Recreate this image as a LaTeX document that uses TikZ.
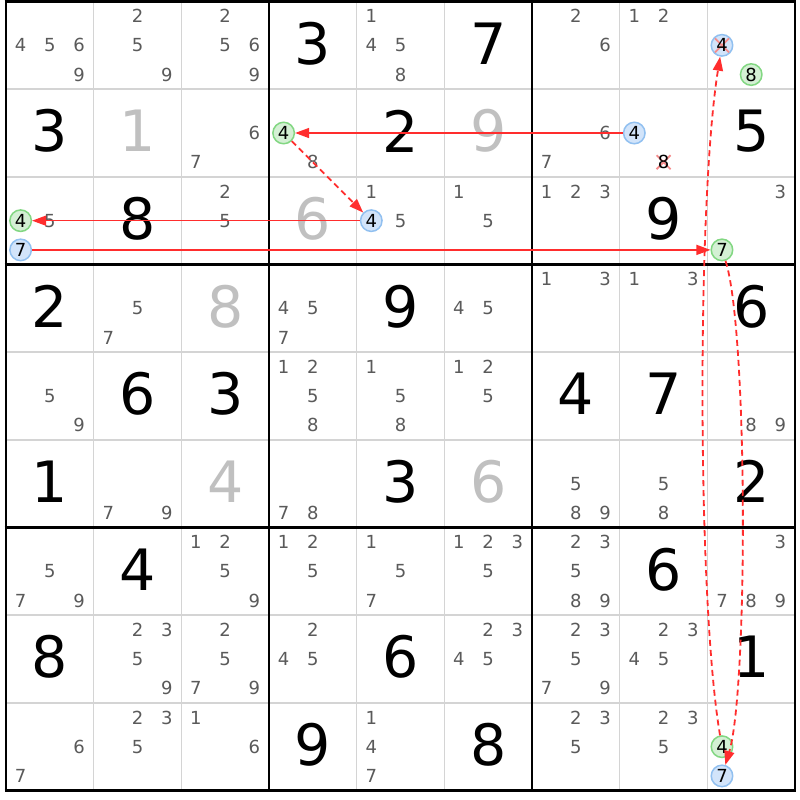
\documentclass[tikz,border=0pt]{standalone}
\usepackage{fontspec}
\setmainfont{DejaVu Sans}
\usetikzlibrary{arrows.meta}
\definecolor{candc}{RGB}{90,90,90}
\definecolor{solvedc}{RGB}{192,192,192}
\definecolor{thinc}{RGB}{212,212,212}
\definecolor{linkc}{RGB}{255,45,45}
\definecolor{gfill}{RGB}{212,240,212}
\definecolor{gdraw}{RGB}{130,215,130}
\definecolor{bfill}{RGB}{210,228,250}
\definecolor{bdraw}{RGB}{145,192,240}
\definecolor{xc}{RGB}{245,140,140}
\newcommand{\CX}[2]{6+(#1-1)*87.67+(mod(#2-1,3)+0.5)*29.223}
\newcommand{\CY}[2]{1.5+(#1-1)*87.67+(floor((#2-1)/3)+0.5)*29.223}
\newcommand{\cands}[3]{\foreach \d in {#3}{\node[candt] at ({\CX{#2}{\d}},{\CY{#1}{\d}}) {\d};}}
\newcommand{\bigd}[4]{\node[#4] at ({6+(#2-0.5)*87.67},{1.5+(#1-0.5)*87.67-2}) {#3};}
\tikzset{
  candt/.style={text=candc, inner sep=0pt, font=\fontsize{18}{19}\selectfont},
  givent/.style={text=black, inner sep=0pt, font=\fontsize{57}{60}\selectfont},
  solvedt/.style={text=solvedc, inner sep=0pt, font=\fontsize{57}{60}\selectfont},
  gcirc/.style={circle, draw=gdraw, fill=gfill, line width=1.5pt, minimum size=21.5pt, inner sep=0pt, text=black, font=\fontsize{18}{19}\selectfont},
  bcirc/.style={circle, draw=bdraw, fill=bfill, line width=1.5pt, minimum size=21.5pt, inner sep=0pt, text=black, font=\fontsize{18}{19}\selectfont},
  plaintxt/.style={inner sep=0pt, text=black, font=\fontsize{18}{19}\selectfont},
  xmark/.style={draw=xc, line width=1.8pt},
  linkline/.style={draw=linkc, line width=1.4pt, -{Triangle[length=14pt,width=10pt]}},
  weaklink/.style={draw=linkc, line width=1.8pt, dash pattern=on 6pt off 4pt, -{Triangle[length=14pt,width=10pt]}},
}
\begin{document}
\begin{tikzpicture}[x=1pt,y=-1pt]
\useasboundingbox (0,0) rectangle (800,800);
\fill[white] (0,0) rectangle (800,800);
% thin grid
\foreach \i in {1,2,4,5,7,8}{
  \draw[thinc, line width=1.6pt] ({6+\i*87.67},1.5) -- ({6+\i*87.67},789.5);
  \draw[thinc, line width=1.6pt] (6,{1.5+\i*87.67}) -- (795,{1.5+\i*87.67});
}
% thick grid
\foreach \i in {0,3,6,9}{
  \draw[black, line width=2.8pt] ({6+\i*87.67},0.1) -- ({6+\i*87.67},790.9);
  \draw[black, line width=2.8pt] (4.6,{1.5+\i*87.67}) -- (796.4,{1.5+\i*87.67});
}
% givens
\bigd{1}{4}{3}{givent} \bigd{1}{6}{7}{givent}
\bigd{2}{1}{3}{givent} \bigd{2}{5}{2}{givent} \bigd{2}{9}{5}{givent}
\bigd{3}{2}{8}{givent} \bigd{3}{8}{9}{givent}
\bigd{4}{1}{2}{givent} \bigd{4}{5}{9}{givent} \bigd{4}{9}{6}{givent}
\bigd{5}{2}{6}{givent} \bigd{5}{3}{3}{givent} \bigd{5}{7}{4}{givent} \bigd{5}{8}{7}{givent}
\bigd{6}{1}{1}{givent} \bigd{6}{5}{3}{givent} \bigd{6}{9}{2}{givent}
\bigd{7}{2}{4}{givent} \bigd{7}{8}{6}{givent}
\bigd{8}{1}{8}{givent} \bigd{8}{5}{6}{givent} \bigd{8}{9}{1}{givent}
\bigd{9}{4}{9}{givent} \bigd{9}{6}{8}{givent}
% solved
\bigd{2}{2}{1}{solvedt} \bigd{2}{6}{9}{solvedt} \bigd{3}{4}{6}{solvedt}
\bigd{4}{3}{8}{solvedt} \bigd{6}{3}{4}{solvedt} \bigd{6}{6}{6}{solvedt}
% candidates
\cands{1}{1}{4,5,6,9} \cands{1}{2}{2,5,9} \cands{1}{3}{2,5,6,9} \cands{1}{5}{1,4,5,8}
\cands{1}{7}{2,6} \cands{1}{8}{1,2}
\cands{2}{3}{6,7} \cands{2}{4}{8} \cands{2}{7}{6,7}
\cands{3}{1}{5} \cands{3}{3}{2,5} \cands{3}{5}{1,5} \cands{3}{6}{1,5} \cands{3}{7}{1,2,3} \cands{3}{9}{3}
\cands{4}{2}{5,7} \cands{4}{4}{4,5,7} \cands{4}{6}{4,5} \cands{4}{7}{1,3} \cands{4}{8}{1,3}
\cands{5}{1}{5,9} \cands{5}{4}{1,2,5,8} \cands{5}{5}{1,5,8} \cands{5}{6}{1,2,5} \cands{5}{9}{8,9}
\cands{6}{2}{7,9} \cands{6}{4}{7,8} \cands{6}{7}{5,8,9} \cands{6}{8}{5,8}
\cands{7}{1}{5,7,9} \cands{7}{3}{1,2,5,9} \cands{7}{4}{1,2,5} \cands{7}{5}{1,5,7} \cands{7}{6}{1,2,3,5}
\cands{7}{7}{2,3,5,8,9} \cands{7}{9}{3,7,8,9}
\cands{8}{2}{2,3,5,9} \cands{8}{3}{2,5,7,9} \cands{8}{4}{2,4,5} \cands{8}{6}{2,3,4,5}
\cands{8}{7}{2,3,5,7,9} \cands{8}{8}{2,3,4,5}
\cands{9}{1}{6,7} \cands{9}{2}{2,3,5} \cands{9}{3}{1,6} \cands{9}{5}{1,4,7} \cands{9}{7}{2,3,5} \cands{9}{8}{2,3,5}
% highlighted candidates
\node[bcirc] (b19) at ({\CX{9}{4}},{\CY{1}{4}}) {};
\draw[xmark] (b19.center) +(-7,-7) -- +(7,7) +(-7,7) -- +(7,-7);
\node[plaintxt] at (b19) {4};
\node[gcirc] (g19) at ({\CX{9}{8}},{\CY{1}{8}}) {8};
\node[gcirc] (g24) at ({\CX{4}{4}},{\CY{2}{4}}) {4};
\node[bcirc] (b28) at ({\CX{8}{4}},{\CY{2}{4}}) {4};
\coordinate (x28) at ({\CX{8}{8}},{\CY{2}{8}});
\draw[xmark] (x28) +(-7,-7) -- +(7,7) +(-7,7) -- +(7,-7);
\node[plaintxt] at (x28) {8};
\node[gcirc] (g31) at ({\CX{1}{4}},{\CY{3}{4}}) {4};
\node[bcirc] (b31) at ({\CX{1}{7}},{\CY{3}{7}}) {7};
\node[bcirc] (b35) at ({\CX{5}{4}},{\CY{3}{4}}) {4};
\node[gcirc] (g39) at ({\CX{9}{7}},{\CY{3}{7}}) {7};
\node[gcirc] (g99) at ({\CX{9}{4}},{\CY{9}{4}}) {4};
\node[bcirc] (b99) at ({\CX{9}{7}},{\CY{9}{7}}) {7};
% links
\draw[linkline] (b28) -- (g24);
\draw[weaklink] (g24) -- (b35);
\draw[linkline] (b35) -- (g31);
\draw[linkline] (b31) -- (g39);
\draw[weaklink] (g39) .. controls (748,330) and (748,690) .. (b99);
\draw[weaklink] (g99) .. controls (697,600) and (697,200) .. (b19);
\end{tikzpicture}
\end{document}
